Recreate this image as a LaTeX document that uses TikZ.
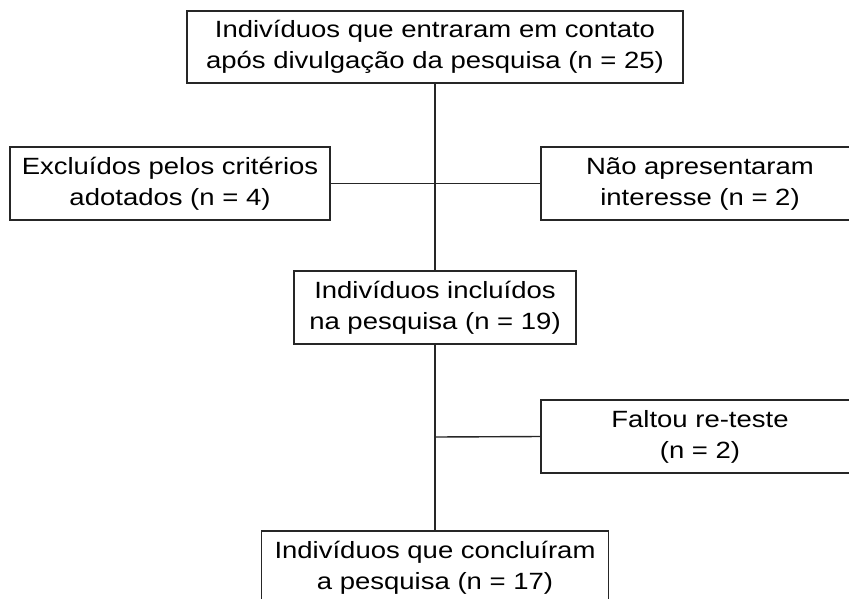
\documentclass[tikz,border=0pt]{standalone}
\usepackage{fontspec}
\setmainfont{Liberation Sans}[FakeStretch=1.17]
\begin{document}
\begin{tikzpicture}[x=1pt,y=-1pt,
  box/.style={draw=black!85, line width=1.5pt, fill=white, inner sep=0pt,
    align=center, text=black, font=\fontsize{23.5}{31}\selectfont},
  conn/.style={draw=black!85, line width=1.4pt}]
\useasboundingbox (0,0) rectangle (849,598);
\node[box, minimum width=496pt, minimum height=72pt] (top) at (435,47)
  {Indivíduos que entraram em contato\\após divulgação da pesquisa (n = 25)};
\node[box, minimum width=320pt, minimum height=73pt] (excl) at (170,183.5)
  {Excluídos pelos critérios\\adotados (n = 4)};
\node[box, minimum width=318pt, minimum height=73pt] (nao) at (700,183.5)
  {Não apresentaram\\interesse (n = 2)};
\node[box, minimum width=282pt, minimum height=73pt] (incl) at (435,307.5)
  {Indivíduos incluídos\\na pesquisa (n = 19)};
\node[box, minimum width=318pt, minimum height=73pt] (falt) at (700,436.5)
  {Faltou re-teste\\(n = 2)};
\node[box, minimum width=347pt, minimum height=73pt] (concl) at (435,567.5)
  {Indivíduos que concluíram\\a pesquisa (n = 17)};
\coordinate (j2) at (435,437);
\draw[conn] (top.south) -- (incl.north);
\draw[conn] (excl.east) -- (nao.west);
\draw[conn] (incl.south) -- (concl.north);
\draw[conn] (j2) -- (falt.west);
\end{tikzpicture}
\end{document}
